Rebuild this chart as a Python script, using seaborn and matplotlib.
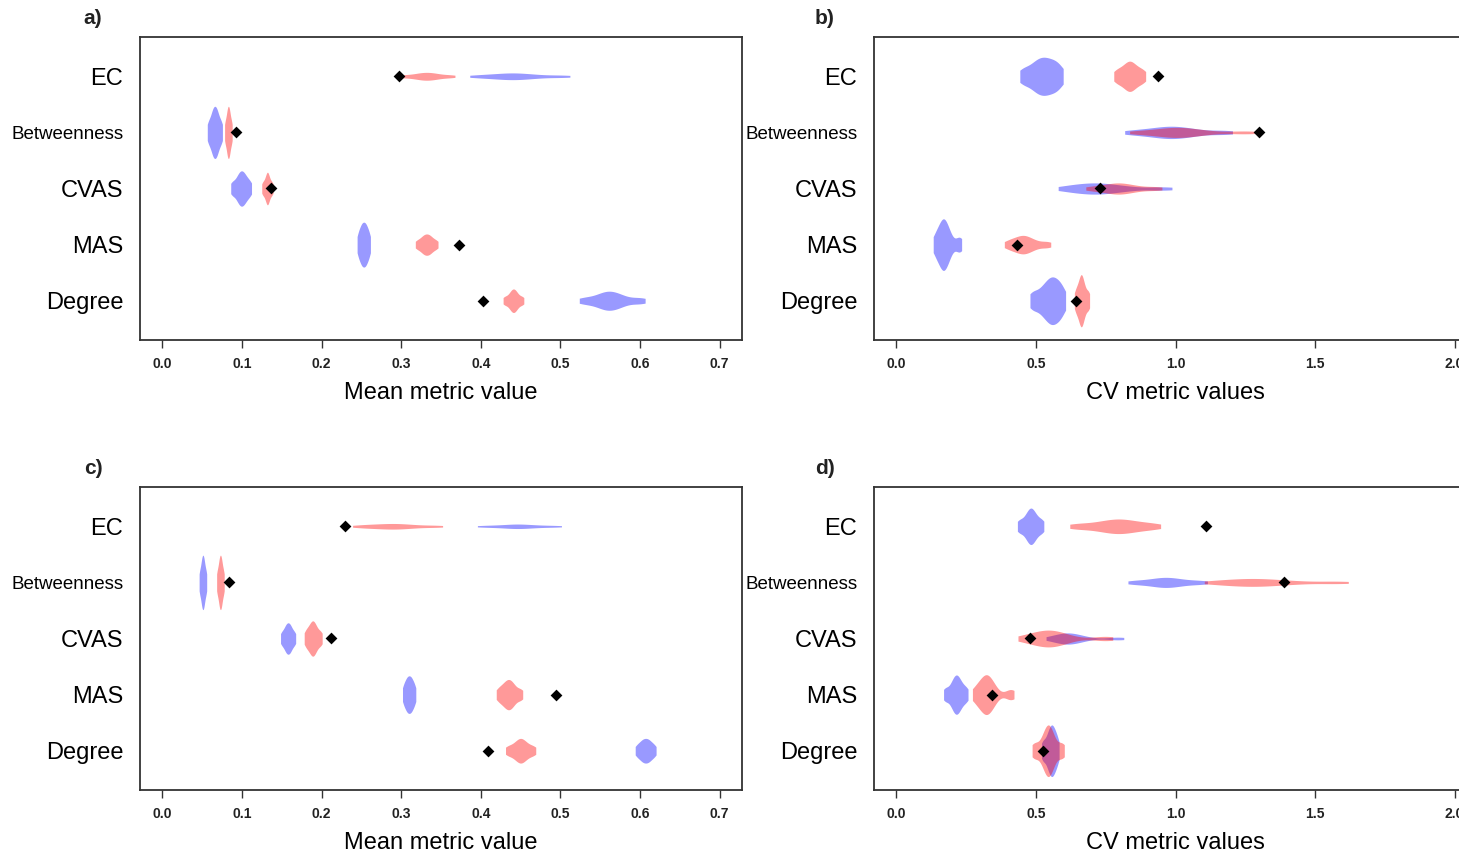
import matplotlib
matplotlib.use("Agg")
import matplotlib.pyplot as plt
from matplotlib import font_manager
import seaborn as sns

# ---------------- data ----------------
metrics = ["EC", "Betweenness", "CVAS", "MAS", "Degree"]

# panel a (mean metric value) - samples per metric (EC, Betweenness, CVAS, MAS, Degree)
a_blue = [[0.396, 0.418, 0.432, 0.442, 0.452, 0.470, 0.502],
          [0.058, 0.062, 0.064, 0.066, 0.068, 0.070, 0.074],
          [0.088, 0.094, 0.097, 0.0995, 0.102, 0.105, 0.110],
          [0.246, 0.249, 0.251, 0.253, 0.255, 0.257, 0.260],
          [0.530, 0.548, 0.556, 0.562, 0.568, 0.578, 0.600]]
a_red = [[0.302, 0.318, 0.326, 0.332, 0.338, 0.346, 0.362],
         [0.079, 0.081, 0.082, 0.083, 0.084, 0.085, 0.087],
         [0.126, 0.129, 0.131, 0.132, 0.133, 0.135, 0.138],
         [0.320, 0.326, 0.329, 0.332, 0.335, 0.338, 0.344],
         [0.430, 0.436, 0.439, 0.441, 0.443, 0.446, 0.452]]
a_pts = [0.297, 0.093, 0.137, 0.373, 0.403]

# panel b (CV metric values)
b_blue = [[0.455, 0.490, 0.510, 0.527, 0.544, 0.565, 0.585],
          [0.848, 0.920, 0.960, 0.990, 1.020, 1.070, 1.174],
          [0.612, 0.660, 0.700, 0.725, 0.760, 0.820, 0.955],
          [0.140, 0.155, 0.165, 0.171, 0.178, 0.192, 0.226],
          [0.489, 0.520, 0.540, 0.553, 0.565, 0.580, 0.596]]
b_red = [[0.788, 0.810, 0.826, 0.836, 0.846, 0.862, 0.884],
         [0.870, 0.950, 0.990, 1.010, 1.040, 1.100, 1.250],
         [0.700, 0.750, 0.780, 0.800, 0.820, 0.860, 0.930],
         [0.400, 0.425, 0.445, 0.457, 0.470, 0.495, 0.540],
         [0.642, 0.652, 0.659, 0.663, 0.667, 0.675, 0.688]]
b_pts = [0.938, 1.299, 0.729, 0.432, 0.644]

# panel c (mean metric value)
c_blue = [[0.404, 0.425, 0.440, 0.446, 0.455, 0.470, 0.493],
          [0.047, 0.049, 0.050, 0.051, 0.052, 0.053, 0.055],
          [0.150, 0.154, 0.156, 0.158, 0.160, 0.162, 0.166],
          [0.303, 0.306, 0.308, 0.310, 0.312, 0.314, 0.317],
          [0.596, 0.601, 0.604, 0.607, 0.610, 0.613, 0.618]]
c_red = [[0.248, 0.265, 0.280, 0.290, 0.300, 0.315, 0.343],
         [0.069, 0.071, 0.072, 0.073, 0.074, 0.075, 0.077],
         [0.180, 0.184, 0.187, 0.189, 0.191, 0.194, 0.199],
         [0.422, 0.428, 0.432, 0.435, 0.438, 0.442, 0.450],
         [0.434, 0.442, 0.447, 0.450, 0.453, 0.458, 0.466]]
c_pts = [0.229, 0.084, 0.212, 0.495, 0.409]

# panel d (CV metric values)
d_blue = [[0.441, 0.463, 0.475, 0.482, 0.489, 0.501, 0.521],
          [0.852, 0.910, 0.945, 0.968, 0.990, 1.030, 1.092],
          [0.558, 0.590, 0.610, 0.619, 0.635, 0.670, 0.793],
          [0.176, 0.198, 0.208, 0.215, 0.222, 0.232, 0.250],
          [0.525, 0.540, 0.549, 0.555, 0.561, 0.568, 0.578]]
d_red = [[0.647, 0.720, 0.765, 0.793, 0.820, 0.860, 0.921],
         [1.144, 1.210, 1.260, 1.297, 1.340, 1.420, 1.578],
         [0.462, 0.505, 0.535, 0.551, 0.570, 0.610, 0.749],
         [0.284, 0.305, 0.317, 0.325, 0.333, 0.350, 0.410],
         [0.495, 0.525, 0.537, 0.544, 0.551, 0.562, 0.593]]
d_pts = [1.110, 1.390, 0.478, 0.343, 0.527]

mean_ticks = [0.0, 0.1, 0.2, 0.3, 0.4, 0.5, 0.6, 0.7]
cv_ticks = [0.0, 0.5, 1.0, 1.5, 2.0]

# ---------------- style (violin thickness per metric) ----------------
a_bw = [0.12, 0.93, 0.63, 0.80, 0.34]; a_rw = [0.14, 0.93, 0.58, 0.38, 0.42]
b_bw = [0.68, 0.22, 0.20, 0.92, 0.85]; b_rw = [0.54, 0.18, 0.20, 0.33, 0.93]
c_bw = [0.08, 0.97, 0.56, 0.67, 0.44]; c_rw = [0.10, 0.97, 0.63, 0.54, 0.44]
d_bw = [0.65, 0.18, 0.20, 0.70, 0.92]; d_rw = [0.26, 0.14, 0.30, 0.71, 0.92]

BLUE = "#0000FF"
RED = "#FF0000"

sns.set_theme(style="white")
names = {f.name for f in font_manager.fontManager.ttflist}
BASE = "Liberation Sans" if "Liberation Sans" in names else "DejaVu Sans"
NARROW = "Liberation Sans Narrow" if "Liberation Sans Narrow" in names else BASE
plt.rcParams["font.family"] = [BASE, "DejaVu Sans"]

W, H = 1459, 859
fig = plt.figure(figsize=(W / 100, H / 100), dpi=100)


def add_ax(l, r, t, b):
    return fig.add_axes([l / W, 1 - b / H, (r - l) / W, (b - t) / H])


def draw(ax, blue, red, bws, rws, pts, xlim, ticks, xlabel):
    for samples, widths, col in ((blue, bws, BLUE), (red, rws, RED)):
        for m, vals, w in zip(metrics, samples, widths):
            sns.violinplot(x=vals, y=[m] * len(vals), order=metrics, orient="h",
                           color=col, saturation=1, alpha=0.4, linewidth=0,
                           inner=None, cut=0.6, bw_adjust=0.7, gridsize=200,
                           density_norm="width", width=w, ax=ax)
    sns.stripplot(x=pts, y=metrics, order=metrics, orient="h", jitter=False,
                  marker="D", color="black", size=6, linewidth=0, ax=ax, zorder=5)
    ax.set_xlim(*xlim)
    ax.set_ylim(4.7, -0.7)
    ax.set_xticks(ticks)
    ax.set_xticklabels([f"{t:.1f}" for t in ticks], family=NARROW,
                       fontweight="bold", fontsize=10, color="#222222")
    ax.set_yticks(range(len(metrics)))
    ax.set_yticklabels(metrics)
    for lab in ax.get_yticklabels():
        lab.set_fontsize(13.5 if lab.get_text() == "Betweenness" else 17)
        lab.set_color("black")
    ax.tick_params(axis="x", length=6, width=1, color="#333333", pad=6, bottom=True)
    ax.tick_params(axis="y", length=0, pad=12)
    ax.set_xlabel(xlabel, fontsize=17, labelpad=8, color="black")
    ax.set_ylabel("")
    for s in ax.spines.values():
        s.set_visible(True)
        s.set_color("#333333")
        s.set_linewidth(1.3)


ax_a = add_ax(140, 742, 37, 340)
ax_b = add_ax(874, 1477, 37, 340)
ax_c = add_ax(140, 742, 487, 790)
ax_d = add_ax(874, 1477, 487, 790)

draw(ax_a, a_blue, a_red, a_bw, a_rw, a_pts, (-0.028, 0.728), mean_ticks, "Mean metric value")
draw(ax_b, b_blue, b_red, b_bw, b_rw, b_pts, (-0.08, 2.08), cv_ticks, "CV metric values")
draw(ax_c, c_blue, c_red, c_bw, c_rw, c_pts, (-0.028, 0.728), mean_ticks, "Mean metric value")
draw(ax_d, d_blue, d_red, d_bw, d_rw, d_pts, (-0.08, 2.08), cv_ticks, "CV metric values")

for lab, x, y in (("a)", 93, 18), ("b)", 825, 18), ("c)", 93, 468), ("d)", 825, 468)):
    fig.text(x / W, 1 - y / H, lab, ha="center", va="center", fontsize=15,
             fontweight="bold", color="#222222")

fig.savefig("out.png", dpi=100)
